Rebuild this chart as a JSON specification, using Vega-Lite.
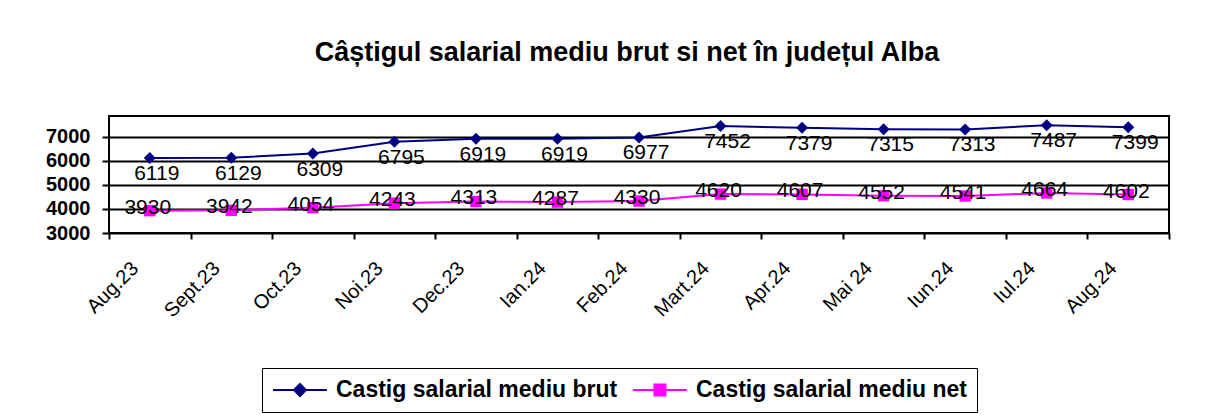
{
  "$schema": "https://vega.github.io/schema/vega-lite/v6.json",
  "autosize": {"type": "none"},
  "padding": {"left": 109, "top": 116, "right": 63, "bottom": 183},
  "width": 1060,
  "height": 117,
  "background": "white",
  "config": {
    "font": "Liberation Sans",
    "view": {"stroke": "black", "strokeWidth": 2}
  },
  "title": {
    "text": "Câștigul salarial mediu brut si net în județul Alba",
    "font": "Liberation Sans",
    "fontSize": 27,
    "fontWeight": "bold",
    "color": "black",
    "anchor": "middle",
    "dx": -12,
    "offset": 49
  },
  "data": {
    "values": [
      {"month": "Aug.23", "series": "Castig salarial mediu brut", "value": 6119},
      {"month": "Sept.23", "series": "Castig salarial mediu brut", "value": 6129},
      {"month": "Oct.23", "series": "Castig salarial mediu brut", "value": 6309},
      {"month": "Noi.23", "series": "Castig salarial mediu brut", "value": 6795},
      {"month": "Dec.23", "series": "Castig salarial mediu brut", "value": 6919},
      {"month": "Ian.24", "series": "Castig salarial mediu brut", "value": 6919},
      {"month": "Feb.24", "series": "Castig salarial mediu brut", "value": 6977},
      {"month": "Mart.24", "series": "Castig salarial mediu brut", "value": 7452},
      {"month": "Apr.24", "series": "Castig salarial mediu brut", "value": 7379},
      {"month": "Mai 24", "series": "Castig salarial mediu brut", "value": 7315},
      {"month": "Iun.24", "series": "Castig salarial mediu brut", "value": 7313},
      {"month": "Iul.24", "series": "Castig salarial mediu brut", "value": 7487},
      {"month": "Aug.24", "series": "Castig salarial mediu brut", "value": 7399},
      {"month": "Aug.23", "series": "Castig salarial mediu net", "value": 3930},
      {"month": "Sept.23", "series": "Castig salarial mediu net", "value": 3942},
      {"month": "Oct.23", "series": "Castig salarial mediu net", "value": 4054},
      {"month": "Noi.23", "series": "Castig salarial mediu net", "value": 4243},
      {"month": "Dec.23", "series": "Castig salarial mediu net", "value": 4313},
      {"month": "Ian.24", "series": "Castig salarial mediu net", "value": 4287},
      {"month": "Feb.24", "series": "Castig salarial mediu net", "value": 4330},
      {"month": "Mart.24", "series": "Castig salarial mediu net", "value": 4620},
      {"month": "Apr.24", "series": "Castig salarial mediu net", "value": 4607},
      {"month": "Mai 24", "series": "Castig salarial mediu net", "value": 4552},
      {"month": "Iun.24", "series": "Castig salarial mediu net", "value": 4541},
      {"month": "Iul.24", "series": "Castig salarial mediu net", "value": 4664},
      {"month": "Aug.24", "series": "Castig salarial mediu net", "value": 4602}
    ]
  },
  "encoding": {
    "x": {
      "field": "month",
      "type": "nominal",
      "sort": null,
      "scale": {"paddingInner": 0, "paddingOuter": 0},
      "axis": {
        "title": null,
        "tickBand": "extent",
        "domain": false,
        "ticks": true,
        "tickColor": "black",
        "tickWidth": 2,
        "tickSize": 6,
        "grid": false,
        "labelAngle": -45,
        "labelAlign": "right",
        "labelBaseline": "middle",
        "labelFont": "Liberation Sans",
        "labelFontSize": 20,
        "labelColor": "black",
        "labelPadding": 26,
        "labelOffset": -15
      }
    },
    "y": {
      "field": "value",
      "type": "quantitative",
      "scale": {"domain": [3000, 7870], "nice": false, "zero": false},
      "axis": {
        "title": null,
        "values": [3000, 4000, 5000, 6000, 7000],
        "format": "d",
        "domain": false,
        "grid": true,
        "gridColor": "black",
        "gridWidth": 2,
        "gridOpacity": 1,
        "ticks": true,
        "tickColor": "black",
        "tickWidth": 2,
        "tickSize": 7,
        "labelFont": "Liberation Sans",
        "labelFontSize": 20,
        "labelFontWeight": "bold",
        "labelColor": "black",
        "labelPadding": 12
      }
    },
    "color": {
      "field": "series",
      "type": "nominal",
      "sort": null,
      "scale": {
        "domain": ["Castig salarial mediu brut", "Castig salarial mediu net"],
        "range": ["#000080", "#FF00FF"]
      },
      "legend": {
        "title": null,
        "orient": "none",
        "legendX": 153,
        "legendY": 252,
        "direction": "horizontal",
        "labelFont": "Liberation Sans",
        "labelFontSize": 23,
        "labelFontWeight": "bold",
        "labelColor": "black",
        "labelLimit": 400,
        "symbolSize": 484,
        "labelOffset": 40,
        "columnPadding": 11,
        "padding": 10,
        "strokeColor": "black",
        "fillColor": "white",
        "encode": {
          "symbols": {
            "update": {
              "shape": {"signal": "datum.value === 'Castig salarial mediu brut' ? 'M-1,0H3.9M1.45,-0.545L1.995,0L1.45,0.545L0.905,0Z' : 'M-1,0H3.9M0.95,-0.5H1.95V0.5H0.95Z'"},
              "stroke": {"signal": "datum.value === 'Castig salarial mediu brut' ? '#000080' : '#FF00FF'"},
              "fill": {"signal": "datum.value === 'Castig salarial mediu brut' ? '#000080' : '#FF00FF'"},
              "strokeWidth": {"value": 2},
              "opacity": {"value": 1},
              "fillOpacity": {"value": 1}
            }
          }
        }
      }
    }
  },
  "layer": [
    {
      "mark": {"type": "line", "strokeWidth": 2}
    },
    {
      "transform": [{"filter": "datum.series === 'Castig salarial mediu brut'"}],
      "mark": {"type": "point", "filled": true, "shape": "diamond", "size": 144, "opacity": 1}
    },
    {
      "transform": [{"filter": "datum.series === 'Castig salarial mediu net'"}],
      "mark": {"type": "point", "filled": true, "shape": "square", "size": 130, "opacity": 1}
    },
    {
      "transform": [{"filter": "datum.series === 'Castig salarial mediu brut'"}],
      "mark": {"type": "text", "fontSize": 21, "font": "Liberation Sans", "dy": 16, "dx": 7, "baseline": "middle"},
      "encoding": {
        "text": {"field": "value", "type": "quantitative", "format": "d"},
        "color": {"value": "black"}
      }
    },
    {
      "transform": [{"filter": "datum.series === 'Castig salarial mediu net'"}],
      "mark": {"type": "text", "fontSize": 21, "font": "Liberation Sans", "dy": -3, "dx": -2, "baseline": "middle"},
      "encoding": {
        "text": {"field": "value", "type": "quantitative", "format": "d"},
        "color": {"value": "black"}
      }
    }
  ]
}
